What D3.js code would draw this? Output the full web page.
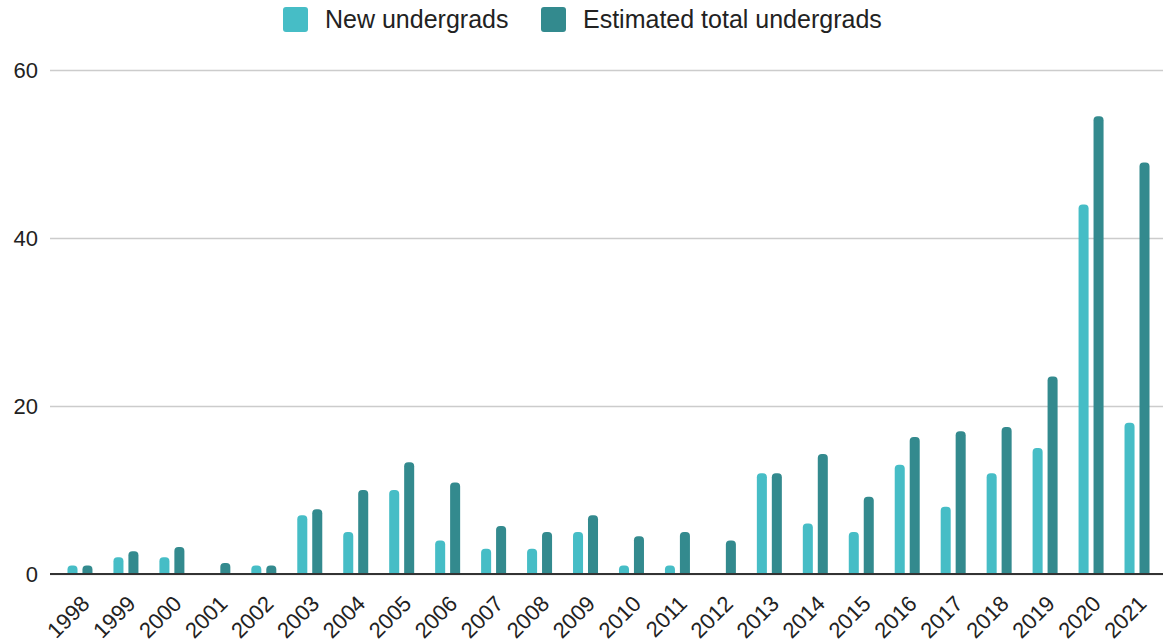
<!DOCTYPE html>
<html>
<head>
<meta charset="utf-8">
<script src="https://cdn.jsdelivr.net/npm/d3@7"></script>
<style>
  body { margin: 0; background: #fff; }
  svg { display: block; font-family: "Liberation Sans", Arial, sans-serif; }
</style>
</head>
<body>
<svg id="chart" width="1163" height="644"></svg>
<script>
const years = ["1998","1999","2000","2001","2002","2003","2004","2005","2006","2007","2008","2009",
  "2010","2011","2012","2013","2014","2015","2016","2017","2018","2019","2020","2021"];
const seriesNames = ["New undergrads", "Estimated total undergrads"];
const newUndergrads = [1, 2, 2, 0, 1, 7, 5, 10, 4, 3, 3, 5, 1, 1, 0, 12, 6, 5, 13, 8, 12, 15, 44, 18];
const totalUndergrads = [1, 2.7, 3.2, 1.3, 1, 7.7, 10, 13.3, 10.9, 5.7, 5, 7, 4.5, 5, 4, 12, 14.3, 9.2, 16.3, 17, 17.5, 23.5, 54.5, 49];
const yTicks = [0, 20, 40, 60];
const colors = ["#46bdc6", "#338a8e"];

const width = 1163, height = 644;
const margin = {top: 70, right: 0, bottom: 70, left: 50};
const svg = d3.select("#chart");

const data = years.map((y, i) => ({year: y, values: [newUndergrads[i], totalUndergrads[i]]}));

// scales
const x0 = d3.scaleBand().domain(years).range([57, 1160]).padding(0);
const groupW = 25;
const x1 = d3.scaleBand().domain([0, 1]).range([0, groupW]).paddingInner(0.33);
const y = d3.scaleLinear().domain([0, 60]).range([574, margin.top]);

// gridlines + y labels
const yAxis = svg.append("g")
  .attr("transform", "translate(" + margin.left + ",0)")
  .call(d3.axisLeft(y).tickValues(yTicks).tickSize(-(width - margin.left)).tickPadding(12));
yAxis.select(".domain").remove();
yAxis.selectAll(".tick line").attr("stroke", "#cccccc").attr("stroke-width", 1.3);
yAxis.selectAll(".tick text").attr("fill", "#222").style("font-size", "22px")
  .attr("font-family", "Liberation Sans, Arial, sans-serif");

// bars with rounded tops
function barPath(x, yTop, w, yBase, r) {
  const h = yBase - yTop;
  if (h <= 0) return "";
  r = Math.min(r, h, w / 2);
  return "M" + x + "," + yBase +
    "V" + (yTop + r) +
    "Q" + x + "," + yTop + " " + (x + r) + "," + yTop +
    "H" + (x + w - r) +
    "Q" + (x + w) + "," + yTop + " " + (x + w) + "," + (yTop + r) +
    "V" + yBase + "Z";
}

const groups = svg.append("g").selectAll("g")
  .data(data)
  .enter()
  .append("g")
  .attr("transform", d => "translate(" + (x0(d.year) + (x0.bandwidth() - groupW) / 2) + ",0)");

groups.selectAll("path")
  .data(d => d.values.map((v, i) => ({i: i, v: v})))
  .enter()
  .append("path")
  .attr("d", d => barPath(x1(d.i), y(d.v), x1.bandwidth(), y(0), 4))
  .attr("fill", d => colors[d.i]);

// baseline
svg.append("line")
  .attr("x1", margin.left).attr("x2", width)
  .attr("y1", y(0)).attr("y2", y(0))
  .attr("stroke", "#333").attr("stroke-width", 2);

// x labels
const xAxis = svg.append("g")
  .attr("transform", "translate(0," + y(0) + ")")
  .call(d3.axisBottom(x0).tickSize(0).tickPadding(0));
xAxis.select(".domain").remove();
xAxis.selectAll(".tick text")
  .attr("fill", "#222")
  .style("font-size", "22px")
  .attr("font-family", "Liberation Sans, Arial, sans-serif")
  .attr("dy", null).attr("y", 0)
  .attr("text-anchor", "end")
  .attr("transform", "translate(11,31) rotate(-45)");

// legend
const legend = svg.append("g");
const legendItems = [
  {name: seriesNames[0], x: 283, color: colors[0]},
  {name: seriesNames[1], x: 541, color: colors[1]}
];
legendItems.forEach(it => {
  legend.append("rect").attr("x", it.x).attr("y", 7).attr("width", 25).attr("height", 25)
    .attr("rx", 3).attr("fill", it.color);
  legend.append("text").attr("x", it.x + 42).attr("y", 28)
    .attr("fill", "#222").style("font-size", "25px").text(it.name);
});
</script>
</body>
</html>
